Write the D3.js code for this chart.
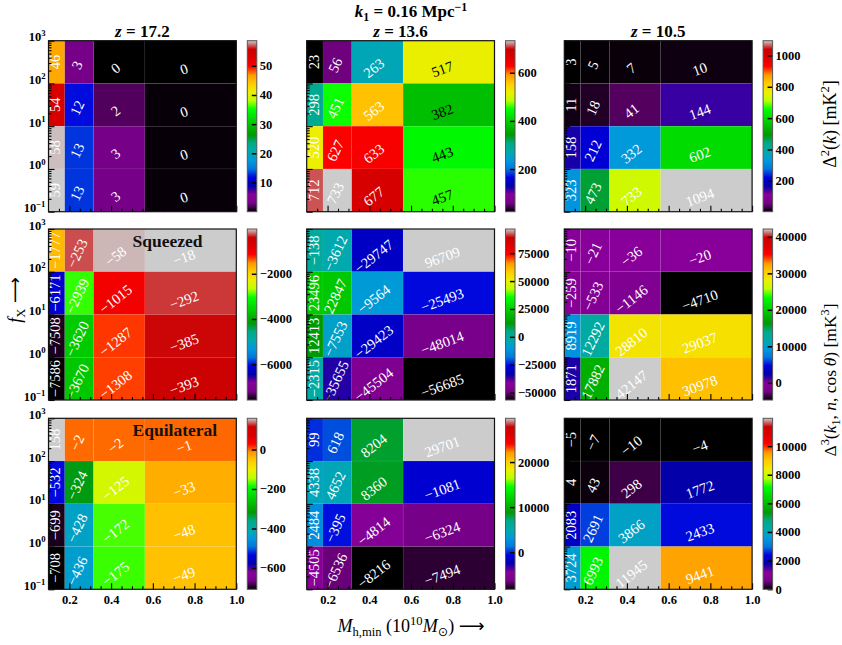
<!DOCTYPE html>
<html><head><meta charset="utf-8">
<script src="https://cdn.jsdelivr.net/npm/d3@7"></script>
<style>body{margin:0;background:#fff}</style>
</head><body><svg id="c" width="842" height="645"></svg>
<script>
// ---------------- data ----------------
const massEdges = [0.1, 0.178, 0.316, 0.562, 1.0];   // M_h,min bin edges (1e10 Msun)
const fxEdges = [1000, 100, 10, 1, 0.1];             // f_X bin edges, top to bottom
const redshifts = ["17.2", "13.6", "10.5"];
const shapeNames = ["", "Squeezed", "Equilateral"];
// each grid: rows top (f_X 100-1000) to bottom (0.1-1), columns low to high mass
const ps_z17 = [[46, 3, 0, 0], [54, 12, 2, 0.2], [58.4, 13, 3, 0.2], [58.6, 13, 3, 0.2]];
const ps_z13 = [[23, 56, 263, 517], [298, 451, 563, 382], [520, 627, 633, 443], [712, 733, 677, 457]];
const ps_z10 = [[3, 5, 7, 10], [11, 18, 41, 144], [158, 212, 332, 602], [323, 473, 733, 1094]];
const sq_z17 = [[-1777, -253, -58, -18], [-6171, -2939, -1015, -292], [-7508, -3620, -1287, -385], [-7586, -3670, -1308, -393]];
const sq_z13 = [[-138, -3612, -29747, 96709], [23496, 22847, -9564, -25493], [12413, -7553, -29423, -48014], [-2315, -35655, -45504, -56685]];
const sq_z10 = [[-10, -21, -36, -20], [-259, -533, -1146, -4710], [8919, 12292, 28810, 29037], [1871, 17882, 42147, 30978]];
const eq_z17 = [[158, -2, -2, -1], [-532, -324, -125, -33], [-699, -428, -172, -48], [-708, -436, -175, -49]];
const eq_z13 = [[99, 618, 8204, 29701], [4338, 4652, 8360, -1081], [2484, -395, -4814, -6324], [-4505, -6536, -8216, -7494]];
const eq_z10 = [[-5, -7, -10, -4], [4, 43, 298, 1772], [2083, 2691, 3866, 2433], [3724, 6993, 11945, 9441]];
const grids = [[ps_z17, ps_z13, ps_z10], [sq_z17, sq_z13, sq_z10], [eq_z17, eq_z13, eq_z10]];
// colorbar ticks
const cbTicks = [
  [[10, 20, 30, 40, 50], [200, 400, 600], [200, 400, 600, 800, 1000]],
  [[-6000, -4000, -2000], [-50000, -25000, 0, 25000, 50000, 75000], [0, 10000, 20000, 30000, 40000]],
  [[-600, -400, -200, 0], [0, 10000, 20000], [0, 2000, 4000, 6000, 8000, 10000]]
];
const xTicks = [0.2, 0.4, 0.6, 0.8, 1.0];
const yTicks = [0.1, 1, 10, 100, 1000];

// ---------------- colormap (nipy_spectral) ----------------
const nR = [0, .4667, .5333, 0, 0, 0, 0, 0, 0, 0, 0, 0, 0, .7333, .9333, 1, 1, 1, .8667, .8, .8];
const nG = [0, 0, 0, 0, 0, .4667, .6, .6667, .6667, .6, .7333, .8667, 1, 1, .9333, .8, .6, 0, 0, 0, .8];
const nB = [0, .5333, .6, .6667, .8667, .8667, .8667, .6667, .5333, 0, 0, 0, 0, 0, 0, 0, 0, 0, 0, 0, .8];
const nT = nR.map((_, i) => i * 0.05);
const nCol = nR.map((_, i) => d3.rgb(nR[i] * 255, nG[i] * 255, nB[i] * 255).formatHex());
const cmap = d3.scaleLinear().domain(nT).range(nCol).clamp(true);

// ---------------- layout ----------------
const svg = d3.select("#c");
const W = 187.8, H = 171;
const panelX = [48.5, 306.7, 564.3], panelY = [40.7, 229, 418.3];
const cbOff = 198.8, cbW = 9.5;
const SERIF = "'Liberation Serif','DejaVu Serif',serif";
const angles = [90, 65, 38, 20];
const dys = [0, 3, 6, 7];

const defs = svg.append("defs");
const grad = defs.append("linearGradient").attr("id", "nipy").attr("x1", 0).attr("y1", 1).attr("x2", 0).attr("y2", 0);
nT.forEach((t, i) => grad.append("stop").attr("offset", t).attr("stop-color", nCol[i]));

function rich(sel, parts, fs) {
  let shift = 0;
  parts.forEach(p => {
    const target = p.sup ? -0.38 * fs : p.sub ? 0.22 * fs : 0;
    const ts = sel.append("tspan").text(p.t).attr("dy", target - shift);
    shift = target;
    if (p.sup || p.sub) ts.attr("font-size", fs * 0.7);
    if (p.it) ts.attr("font-style", "italic");
    if (p.font) ts.attr("font-family", p.font);
  });
}
const fmt = v => { const r = Math.round(v); return (r < 0 ? "\u2212" : "") + Math.abs(r); };

for (let r = 0; r < 3; r++) {
  for (let c = 0; c < 3; c++) {
    const data = grids[r][c];
    const flat = data.flat();
    const vmin = d3.min(flat), vmax = d3.max(flat);
    const norm = d3.scaleLinear().domain([vmin, vmax]).range([0, 1]);
    const x = d3.scaleLinear().domain([0.1, 1]).range([0, W]);
    const y = d3.scaleLog().domain([0.1, 1000]).range([H, 0]);
    const g = svg.append("g").attr("transform", `translate(${panelX[c]},${panelY[r]})`);

    const cells = [];
    data.forEach((row, i) => row.forEach((v, j) => cells.push({ i, j, v })));
    g.selectAll("rect.cell").data(cells).join("rect")
      .attr("x", d => x(massEdges[d.j]))
      .attr("y", d => y(fxEdges[d.i]))
      .attr("width", d => x(massEdges[d.j + 1]) - x(massEdges[d.j]))
      .attr("height", d => y(fxEdges[d.i + 1]) - y(fxEdges[d.i]))
      .attr("fill", d => cmap(norm(d.v)))
      .attr("stroke", "rgba(255,255,255,0.07)").attr("stroke-width", 0.6);

    g.selectAll("text.val").data(cells).join("text")
      .attr("transform", d => {
        const xc = Math.sqrt(massEdges[d.j] * massEdges[d.j + 1]);
        const yc = Math.sqrt(fxEdges[d.i] * fxEdges[d.i + 1]);
        return `translate(${x(xc)},${y(yc) + dys[d.j]}) rotate(${-angles[d.j]})`;
      })
      .attr("text-anchor", "middle").attr("dominant-baseline", "central")
      .attr("font-family", SERIF).attr("font-size", 14.5)
      .attr("fill", d => (r === 0 && c === 1 && d.j === 3) ? "#000" : "#fff")
      .text(d => fmt(d.v));

    // axes
    const minorX = d3.range(0.15, 1.0, 0.05).map(v => +v.toFixed(2)).filter(v => !xTicks.some(t => Math.abs(t - v) < 1e-6));
    const gx = g.append("g").attr("transform", `translate(0,${H})`)
      .call(d3.axisBottom(x).tickValues(xTicks).tickSizeInner(-6).tickSizeOuter(0).tickPadding(6)
        .tickFormat(r === 2 ? d3.format(".1f") : () => ""));
    const gxm = g.append("g").attr("transform", `translate(0,${H})`)
      .call(d3.axisBottom(x).tickValues(minorX).tickSizeInner(-3).tickSizeOuter(0).tickFormat(() => ""));
    const minorY = [];
    [0.1, 1, 10, 100].forEach(dec => { for (let k = 2; k <= 9; k++) minorY.push(dec * k); });
    const gy = g.append("g")
      .call(d3.axisLeft(y).tickValues(yTicks).tickSizeInner(-6).tickSizeOuter(0).tickPadding(3).tickFormat(() => ""));
    const gym = g.append("g")
      .call(d3.axisLeft(y).tickValues(minorY).tickSizeInner(-3).tickSizeOuter(0).tickFormat(() => ""));
    [gx, gxm, gy, gym].forEach(a => {
      a.select(".domain").remove();
      a.selectAll("line").attr("stroke", "#000").attr("stroke-width", 1.1);
      a.selectAll("text").attr("font-family", SERIF).attr("font-size", 12.5).attr("font-weight", "bold").attr("fill", "#000");
    });
    if (c === 0) {
      gy.selectAll(".tick text").each(function (d) {
        const t = d3.select(this); t.text("");
        rich(t, [{ t: "10" }, { t: (Math.round(Math.log10(d)) < 0 ? "\u2212" : "") + Math.abs(Math.round(Math.log10(d))), sup: true }], 12.5);
      });
    }
    g.append("rect").attr("width", W).attr("height", H).attr("fill", "none").attr("stroke", "#111").attr("stroke-width", 1.2);

    if (shapeNames[r] && c === 0) {
      g.append("text").attr("x", x(0.503)).attr("y", 18).attr("font-family", SERIF).attr("font-weight", "bold")
        .attr("font-size", 17.5).attr("fill", "#111").text(shapeNames[r]);
    }

    // colorbar
    const cb = svg.append("g").attr("transform", `translate(${panelX[c] + cbOff},${panelY[r]})`);
    cb.append("rect").attr("width", cbW).attr("height", H).attr("fill", "url(#nipy)");
    const cs = d3.scaleLinear().domain([vmin, vmax]).range([H, 0]);
    const ca = cb.append("g").attr("transform", `translate(${cbW},0)`)
      .call(d3.axisRight(cs).tickValues(cbTicks[r][c]).tickSizeInner(-5).tickSizeOuter(0).tickPadding(3)
        .tickFormat(v => (v < 0 ? "\u2212" : "") + Math.abs(v)));
    ca.select(".domain").remove();
    ca.selectAll("line").attr("stroke", "#000").attr("stroke-width", 1.5);
    ca.selectAll("text").attr("font-family", SERIF).attr("font-size", 12.5).attr("font-weight", "bold").attr("fill", "#000");
    cb.append("rect").attr("width", cbW).attr("height", H).attr("fill", "none").attr("stroke", "#555").attr("stroke-width", 1);
  }
}

// titles
redshifts.forEach((z, c) => {
  const t = svg.append("text").attr("x", panelX[c] + W / 2).attr("y", 36.5).attr("text-anchor", "middle")
    .attr("font-family", SERIF).attr("font-size", 17).attr("font-weight", "bold");
  rich(t, [{ t: "z", it: true }, { t: " = " + z }], 17);
});
const kt = svg.append("text").attr("x", 411).attr("y", 17).attr("text-anchor", "middle")
  .attr("font-family", SERIF).attr("font-size", 17).attr("font-weight", "bold");
rich(kt, [{ t: "k", it: true }, { t: "1", sub: true }, { t: " = 0.16 Mpc" }, { t: "\u22121", sup: true }], 17);

// axis labels
const yl = svg.append("text").attr("transform", "translate(21,300) rotate(-90)").attr("text-anchor", "middle")
  .attr("font-family", SERIF).attr("font-size", 18);
rich(yl, [{ t: "f", it: true }, { t: "X", sub: true }, { t: "   \u27F6", font: "'DejaVu Sans',sans-serif" }], 18);

const xl = svg.append("text").attr("x", 411).attr("y", 632).attr("text-anchor", "middle")
  .attr("font-family", SERIF).attr("font-size", 18);
rich(xl, [{ t: "M", it: true }, { t: "h,min", sub: true }, { t: " (10" }, { t: "10", sup: true }, { t: "M", it: true },
  { t: "\u2299", sub: true, font: "'DejaVu Sans',sans-serif" }, { t: ")   " }, { t: "\u27F6", font: "'DejaVu Sans',sans-serif" }], 18);

const cl1 = svg.append("text").attr("transform", "translate(836,124) rotate(-90)").attr("text-anchor", "middle")
  .attr("font-family", SERIF).attr("font-size", 18);
rich(cl1, [{ t: "\u0394" }, { t: "2", sup: true }, { t: "(" }, { t: "k", it: true }, { t: ") [mK" }, { t: "2", sup: true }, { t: "]" }], 18);

const cl2 = svg.append("text").attr("transform", "translate(836,380) rotate(-90)").attr("text-anchor", "middle")
  .attr("font-family", SERIF).attr("font-size", 17.5);
rich(cl2, [{ t: "\u0394" }, { t: "3", sup: true }, { t: "(" }, { t: "k", it: true }, { t: "1", sub: true }, { t: ", " },
  { t: "n", it: true }, { t: ", cos\u2009" }, { t: "\u03B8", it: true }, { t: ") [mK" }, { t: "3", sup: true }, { t: "]" }], 17.5);
</script>
</body></html>
